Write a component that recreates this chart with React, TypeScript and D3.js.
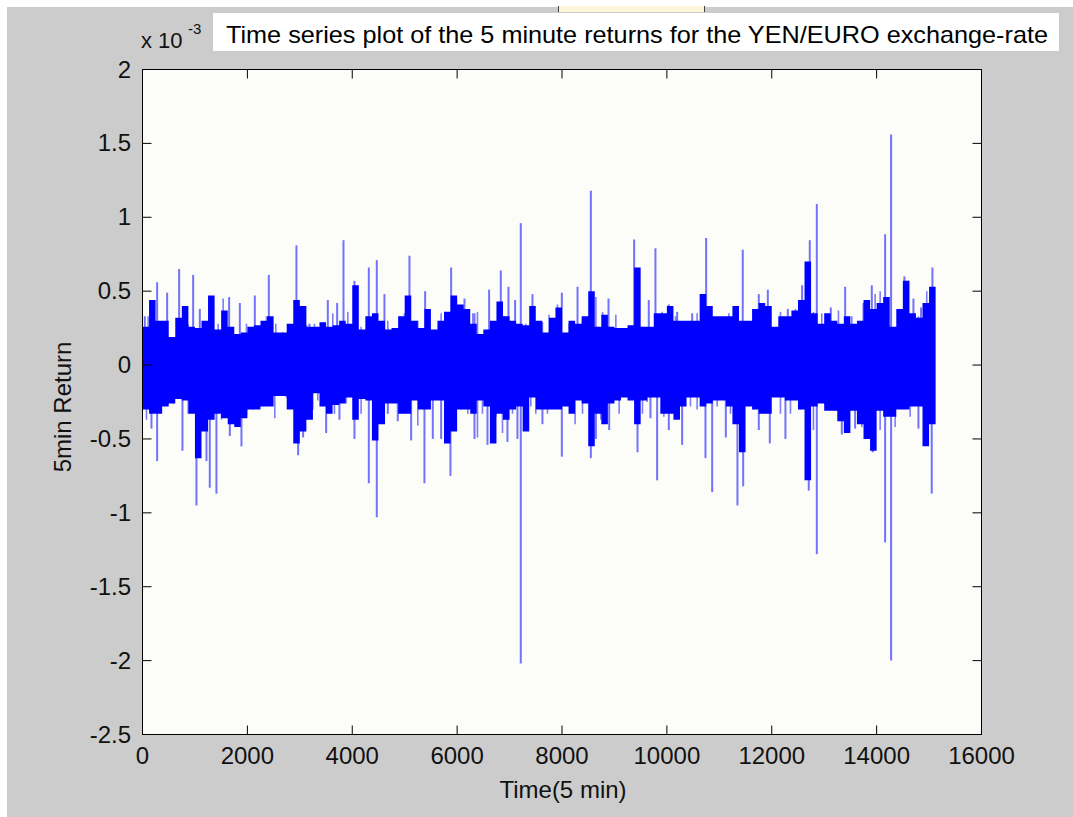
import * as d3 from "d3";

// 5-minute YEN/EURO returns (units of 1e-3).
// dense part of the series, one pair of values per block of 125 observations
const binSize = 125;
const bandHi = [
  0.26, 0.44, 0.30, 0.30, 0.19, 0.32, 0.40, 0.26, 0.25, 0.30, 0.47, 0.24, 0.37, 0.26, 0.21, 0.22, 0.26, 0.27, 0.30, 0.33,
  0.22, 0.22, 0.28, 0.44, 0.40, 0.26,
  0.26, 0.29, 0.26, 0.27, 0.30, 0.28, 0.54, 0.24, 0.33, 0.35, 0.30, 0.24, 0.25, 0.33, 0.47, 0.30, 0.25, 0.38, 0.24, 0.30,
  0.36, 0.47, 0.41, 0.38, 0.28,
  0.21, 0.24, 0.30, 0.43, 0.33, 0.30, 0.28, 0.27, 0.40, 0.30, 0.22, 0.32, 0.39, 0.22, 0.30, 0.28, 0.33, 0.50, 0.26, 0.34,
  0.26, 0.25, 0.25, 0.27, 0.66, 0.26,
  0.26, 0.35, 0.35, 0.40, 0.30, 0.30, 0.30, 0.30, 0.48, 0.40, 0.33, 0.33, 0.33, 0.40, 0.30, 0.30, 0.38, 0.42, 0.40, 0.26,
  0.33, 0.33, 0.37, 0.44, 0.70, 0.35,
  0.28, 0.35, 0.30, 0.28, 0.33, 0.28, 0.30, 0.44, 0.38, 0.42, 0.46, 0.26, 0.38, 0.57, 0.35, 0.32, 0.42, 0.53,
];
const bandLo = [
  -0.30, -0.33, -0.33, -0.28, -0.26, -0.23, -0.24, -0.33, -0.63, -0.45, -0.37, -0.33, -0.36, -0.40, -0.42, -0.36, -0.30,
  -0.30, -0.28, -0.28, -0.21, -0.21, -0.30, -0.53, -0.45, -0.37,
  -0.19, -0.28, -0.33, -0.27, -0.26, -0.22, -0.37, -0.23, -0.24, -0.51, -0.40, -0.26, -0.26, -0.33, -0.33, -0.24, -0.30,
  -0.30, -0.24, -0.24, -0.53, -0.45, -0.30, -0.30, -0.33,
  -0.24, -0.28, -0.53, -0.33, -0.37, -0.30, -0.28, -0.45, -0.22, -0.30, -0.30, -0.30, -0.30, -0.28, -0.33, -0.24, -0.26,
  -0.55, -0.33, -0.40, -0.26, -0.24, -0.22, -0.24, -0.40, -0.24,
  -0.22, -0.22, -0.33, -0.33, -0.37, -0.28, -0.22, -0.22, -0.28, -0.26, -0.24, -0.24, -0.28, -0.40, -0.59, -0.28, -0.30,
  -0.33, -0.33, -0.22, -0.22, -0.24, -0.24, -0.30, -0.78, -0.28,
  -0.26, -0.31, -0.31, -0.38, -0.46, -0.31, -0.40, -0.50, -0.58, -0.31, -0.35, -0.35, -0.30, -0.30, -0.28, -0.28, -0.55,
  -0.40,
];

// isolated spikes: [time index, return]
const spikes: [number, number][] = [
  [44, 0.33], [171, -0.43], [279, 0.56], [279, -0.65], [470, 0.49], [699, 0.65], [762, -0.58], [966, 0.61],
  [1029, -0.95], [1093, 0.38], [1220, -0.65], [1283, -0.83], [1410, -0.87], [1652, 0.46], [1665, -0.48],
  [1856, 0.42], [1887, -0.55], [2142, 0.47], [2409, 0.61], [2936, 0.81], [2968, -0.61], [3063, -0.49],
  [3184, 0.28], [3184, -0.36], [3502, -0.46], [3534, 0.44], [3712, 0.42], [3756, -0.37], [3833, 0.845],
  [4042, 0.57], [4042, -0.5], [4316, 0.66], [4316, -0.8], [4468, 0.71], [4468, -1.03], [4614, 0.48],
  [4678, -0.33], [4868, -0.38], [5091, 0.74], [5123, -0.51], [5377, -0.8], [5390, 0.5], [5536, -0.5],
  [5695, -0.5], [5873, -0.75], [5886, 0.66], [5981, 0.45], [6140, 0.45], [6331, 0.35], [6331, -0.5],
  [6579, -0.54], [6610, 0.51], [6833, 0.64], [6960, -0.52], [6979, 0.53], [7106, 0.44], [7150, -0.5],
  [7214, 0.96], [7214, -2.02], [7437, 0.48], [7627, -0.4], [7997, 0.49], [7997, -0.62], [8296, 0.53],
  [8550, 1.18], [8550, -0.63], [8646, -0.5], [8887, 0.45], [8900, -0.44], [9376, 0.85], [9440, -0.59],
  [9655, 0.44], [9687, -0.36], [9782, 0.79], [9814, -0.78], [10037, 0.41], [10037, -0.44], [10196, 0.36],
  [10291, -0.54], [10482, 0.35], [10736, -0.63], [10749, 0.86], [10864, -0.86], [11124, -0.49], [11346, -0.95],
  [11447, 0.78], [11455, -0.82], [11753, 0.48], [11753, -0.44], [11925, 0.51], [11963, -0.53], [12261, -0.5],
  [12306, 0.38], [12579, 0.54], [12706, -0.85], [12725, 0.845],
  [12859, 1.09], [12859, -1.28], [13126, 0.39], [13336, -0.47], [13400, 0.53], [13590, -0.43], [13749, 0.42],
  [13781, -0.5], [13908, 0.54], [13927, -0.59], [14162, 0.885], [14162, -1.2], [14276, 1.56], [14276, -2.0],
  [14530, 0.6], [14702, 0.45], [14797, -0.43], [14848, 0.39], [15051, -0.87], [15064, 0.66],
];

// small returns just outside the dense band: [time index, return]
const hairs: [number, number][] = [
  [108, 0.33], [362, 0.27], [871, 0.28], [1443, 0.28], [1538, 0.45], [1983, 0.28], [2269, 0.26], [2364, 0.33],
  [2542, 0.28], [2682, 0.22], [3127, 0.27],
  [76, -0.37], [489, -0.26], [584, -0.26], [871, -0.33], [1506, -0.37], [1983, -0.34], [2110, -0.3], [2523, -0.36],
  [2745, -0.22], [3127, -0.37],
  [3279, 0.28], [3438, 0.29], [3629, 0.35], [3915, 0.36], [4169, 0.26], [4678, 0.3], [4792, 0.24], [4995, 0.35],
  [5250, 0.3], [5695, 0.35], [5790, 0.33], [6203, 0.35], [6300, 0.35],
  [3248, -0.3], [3343, -0.24], [3661, -0.33], [3883, -0.26], [4169, -0.33], [4583, -0.3], [4964, -0.33],
  [5250, -0.41], [6076, -0.3], [6203, -0.33],
  [6388, 0.36], [6706, 0.28], [6897, 0.33], [7310, 0.28], [7627, 0.29], [7754, 0.34], [7913, 0.41], [8136, 0.28],
  [8391, 0.3], [8646, 0.46], [8773, 0.36], [9027, 0.34], [9248, 0.25], [9522, 0.26],
  [6388, -0.49], [6483, -0.33], [6738, -0.35], [6865, -0.46], [7056, -0.33], [7405, -0.28], [7500, -0.33],
  [7723, -0.33], [7882, -0.24], [8250, -0.4], [8391, -0.33], [8741, -0.37], [9090, -0.33], [9535, -0.33],
  [9560, 0.26], [9909, 0.36], [10164, 0.33], [10323, 0.28], [10577, 0.35], [10959, 0.32], [11182, 0.35],
  [11658, 0.35], [12166, 0.36], [12452, 0.38],
  [9623, -0.25], [9942, -0.35], [10196, -0.3], [10450, -0.28], [10577, -0.3], [10959, -0.28], [11213, -0.33],
  [11658, -0.3], [11849, -0.33], [12166, -0.33], [12357, -0.33], [12547, -0.3],
  [12795, 0.36], [12954, 0.35], [13272, 0.37], [13527, 0.33], [13972, 0.48], [14067, 0.5], [14448, 0.38],
  [14607, 0.57], [14797, 0.33], [14956, 0.5],
  [12795, -0.44], [13018, -0.26], [13209, -0.31], [13400, -0.44], [13717, -0.42], [14067, -0.44], [14353, -0.42],
  [14639, -0.35], [14925, -0.31],
];

const xTicks = [0, 2000, 4000, 6000, 8000, 10000, 12000, 14000, 16000];
const yTicks = [-2.5, -2, -1.5, -1, -0.5, 0, 0.5, 1, 1.5, 2];

const title = "Time series plot of the 5 minute returns for the YEN/EURO exchange-rate";

const W = 1073;
const H = 817;
const font = "'Liberation Sans', Arial, sans-serif";

export default function App() {
  const left = 142.5, right = 981.5, top = 69.5, bottom = 734.5;
  const x = d3.scaleLinear().domain([0, 16000]).range([left, right]);
  const y = d3.scaleLinear().domain([-2.5, 2]).range([bottom, top]);

  const band = bandHi.map((h, i) => ({ t: i * binSize, hi: h, lo: bandLo[i] }));
  const last = band[band.length - 1];
  band.push({ t: band.length * binSize, hi: last.hi, lo: last.lo });

  const area = d3
    .area<{ t: number; hi: number; lo: number }>()
    .x((d) => x(d.t))
    .y0((d) => y(d.lo))
    .y1((d) => y(d.hi))
    .curve(d3.curveStepAfter);

  const line = d3.line<[number, number]>().x((d) => x(d[0])).y((d) => y(d[1]));

  const tickLen = 9;

  return (
    <svg
      width={W}
      height={H}
      style={{ position: "absolute", left: 0, top: 0, display: "block" }}
      fontFamily={font}
    >
      <rect x={0} y={0} width={W} height={H} fill="#ffffff" />
      <rect x={7} y={7} width={W - 7} height={H - 7} fill="#cccccc" />
      <rect x={558} y={6} width={147} height={6} fill="#fbf6d8" />
      <line x1={558.5} x2={558.5} y1={6} y2={12} stroke="#444" />
      <line x1={704.5} x2={704.5} y1={6} y2={12} stroke="#444" />

      {/* plot area */}
      <rect x={left} y={top} width={right - left} height={bottom - top} fill="#fcfcf9" />

      {hairs.map((s, i) => (
        <path
          key={"h" + i}
          d={line([[s[0], 0], s]) || ""}
          stroke="#0000ff"
          strokeOpacity={0.5}
          strokeWidth={1.6}
          fill="none"
        />
      ))}
      <path d={area(band) || ""} fill="#0000ff" />
      {spikes.map((s, i) => (
        <path
          key={i}
          d={line([[s[0], 0], s]) || ""}
          stroke="#0000ff"
          strokeOpacity={0.55}
          strokeWidth={2}
          fill="none"
        />
      ))}

      {/* frame and ticks */}
      <rect x={left} y={top} width={right - left} height={bottom - top} fill="none" stroke="#000" strokeWidth={1} />
      {xTicks.map((t) => (
        <g key={"x" + t}>
          <line x1={x(t)} x2={x(t)} y1={bottom} y2={bottom - tickLen} stroke="#000" />
          <line x1={x(t)} x2={x(t)} y1={top} y2={top + tickLen} stroke="#000" />
          <text x={x(t)} y={bottom + 29} textAnchor="middle" fontSize={24} fill="#111">
            {t}
          </text>
        </g>
      ))}
      {yTicks.map((v) => (
        <g key={"y" + v}>
          <line x1={left} x2={left + tickLen} y1={y(v)} y2={y(v)} stroke="#000" />
          <line x1={right} x2={right - tickLen} y1={y(v)} y2={y(v)} stroke="#000" />
          <text x={131} y={y(v) + 8} textAnchor="end" fontSize={24} fill="#111">
            {v}
          </text>
        </g>
      ))}

      {/* exponent */}
      <text x={141} y={48} fontSize={22} fill="#111">
        x 10
      </text>
      <text x={188} y={34} fontSize={15} fill="#111">
        -3
      </text>

      {/* axis labels */}
      <text x={563} y={798} textAnchor="middle" fontSize={24} fill="#111">
        Time(5 min)
      </text>
      <text transform="translate(71,407) rotate(-90)" textAnchor="middle" fontSize={24} fill="#111">
        5min Return
      </text>

      {/* title box */}
      <rect x={213} y={13} width={846} height={38} fill="#ffffff" />
      <text x={226} y={43} fontSize={24} fill="#000" textLength={822} lengthAdjust="spacingAndGlyphs">
        {title}
      </text>
    </svg>
  );
}
